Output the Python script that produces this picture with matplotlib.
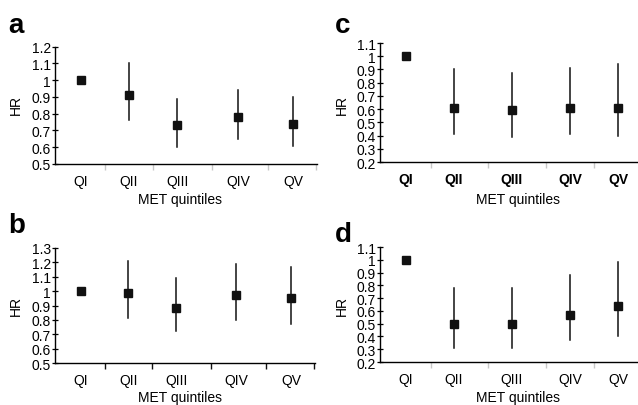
import matplotlib.pyplot as plt

plt.rcParams['font.family'] = ['Liberation Sans', 'DejaVu Sans']

QUINTILES = ['QI', 'QII', 'QIII', 'QIV', 'QV']

# hazard ratios and 95% CI per panel (QI is the reference, no CI)
HR_A = [1.00, 0.91, 0.73, 0.78, 0.74]
LO_A = [1.00, 0.76, 0.60, 0.65, 0.61]
HI_A = [1.00, 1.10, 0.89, 0.94, 0.90]

HR_B = [1.00, 0.99, 0.88, 0.97, 0.95]
LO_B = [1.00, 0.81, 0.72, 0.80, 0.77]
HI_B = [1.00, 1.21, 1.09, 1.19, 1.17]

HR_C = [1.00, 0.61, 0.59, 0.61, 0.61]
LO_C = [1.00, 0.41, 0.39, 0.41, 0.40]
HI_C = [1.00, 0.90, 0.87, 0.91, 0.94]

HR_D = [1.00, 0.50, 0.50, 0.57, 0.64]
LO_D = [1.00, 0.31, 0.31, 0.37, 0.40]
HI_D = [1.00, 0.78, 0.78, 0.88, 0.98]

YTICKS_A = [0.5, 0.6, 0.7, 0.8, 0.9, 1, 1.1, 1.2]
YTICKS_B = [0.5, 0.6, 0.7, 0.8, 0.9, 1, 1.1, 1.2, 1.3]
YTICKS_CD = [0.2, 0.3, 0.4, 0.5, 0.6, 0.7, 0.8, 0.9, 1, 1.1]

# category positions along the x axis (fraction of axis width)
POS_LEFT = [0.099, 0.282, 0.466, 0.698, 0.908]
SEP_LEFT = [0.191, 0.374, 0.599, 0.813, 0.996]
POS_RIGHT = [0.101, 0.287, 0.512, 0.740, 0.926]
SEP_RIGHT = [0.198, 0.419, 0.647, 0.833]


def fmt(v):
    return '1' if v == 1 else f'{v:.1f}'


def panel(rect, hr, lo, hi, yticks, pos, sep, sep_color, bold_labels=False):
    ax = fig.add_axes(rect)
    for x, h, l, u in zip(pos, hr, lo, hi):
        if u > l:
            ax.plot([x, x], [l, u], color='#111111', lw=1.1)
    ax.plot(pos, hr, 's', color='#111111', ms=5.2, ls='none')
    ax.set_xlim(0, 1)
    ax.set_ylim(yticks[0], yticks[-1])
    ax.set_yticks(yticks)
    ax.set_yticklabels([fmt(v) for v in yticks])
    ax.set_xticks(pos)
    ax.set_xticklabels(QUINTILES, fontweight='bold' if bold_labels else 'normal')
    ax.set_xticks(sep, minor=True)
    ax.tick_params(axis='x', which='major', length=0, pad=7, labelsize=10)
    ax.tick_params(axis='x', which='minor', length=4, direction='out',
                   color=sep_color, width=1)
    ax.tick_params(axis='y', length=4, direction='inout', labelsize=10, pad=1,
                   width=0.9)
    for s in ('top', 'right'):
        ax.spines[s].set_visible(False)
    for s in ('left', 'bottom'):
        ax.spines[s].set_linewidth(1.0)
    return ax


fig = plt.figure(figsize=(6.38, 4.06), dpi=100)

panel([0.0862, 0.5936, 0.4107, 0.2889], HR_A, LO_A, HI_A, YTICKS_A,
      POS_LEFT, SEP_LEFT, '#c8c8c8')
panel([0.0862, 0.1034, 0.4075, 0.2833], HR_B, LO_B, HI_B, YTICKS_B,
      POS_LEFT, SEP_LEFT, '#111111')
panel([0.5956, 0.5985, 0.4030, 0.2931], HR_C, LO_C, HI_C, YTICKS_CD,
      POS_RIGHT, SEP_RIGHT, '#c8c8c8', bold_labels=True)
panel([0.5956, 0.1059, 0.4030, 0.2831], HR_D, LO_D, HI_D, YTICKS_CD,
      POS_RIGHT, SEP_RIGHT, '#c8c8c8')

# panel letters
for x, y, t in [(8, 33, 'a'), (8, 233, 'b'), (335, 33, 'c'), (335, 242, 'd')]:
    fig.text(x / 638, 1 - y / 406, t, fontsize=20, fontweight='bold',
             ha='left', va='baseline')

# axis titles
for x, y in [(16, 105), (16, 306), (342, 105), (342, 306)]:
    fig.text(x / 638, 1 - y / 406, 'HR', fontsize=10, rotation=90,
             ha='center', va='center')
for x, y in [(180, 200), (180, 398), (518, 200), (518, 398)]:
    fig.text(x / 638, 1 - y / 406, 'MET quintiles', fontsize=10,
             ha='center', va='center')

fig.savefig('out.png', dpi=100)
